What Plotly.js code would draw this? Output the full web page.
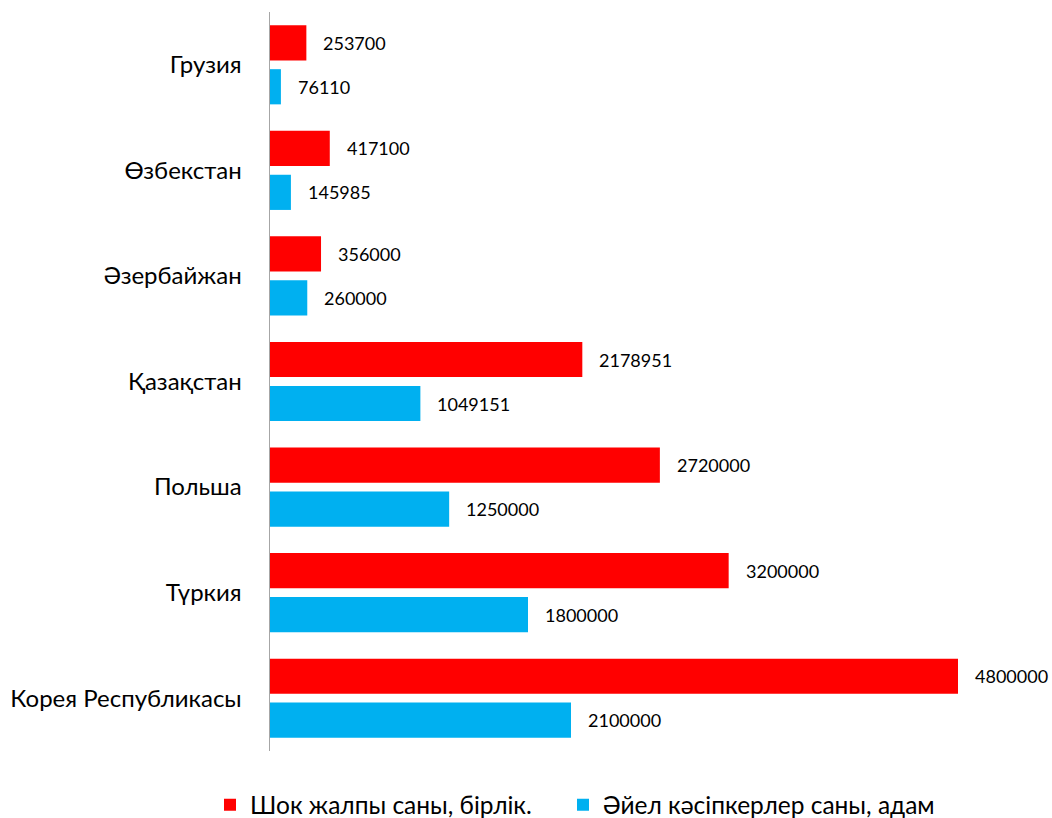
<!DOCTYPE html>
<html>
<head>
<meta charset="utf-8">
<script src="https://cdn.plot.ly/plotly-3.0.1.min.js"></script>
<style>html,body{margin:0;padding:0;background:#fff;}#chart{width:1052px;height:818px;}</style>
</head>
<body>
<div id="chart"></div>
<script>
const categories = ["Грузия", "Өзбекстан", "Әзербайжан", "Қазақстан", "Польша", "Түркия", "Корея Республикасы"];
const shokTotal = [253700, 417100, 356000, 2178951, 2720000, 3200000, 4800000];
const womenEntrepreneurs = [76110, 145985, 260000, 1049151, 1250000, 1800000, 2100000];
const seriesNames = ["Шок жалпы саны, бірлік.", "Әйел кәсіпкерлер саны, адам"];

const FONT = "Lato, 'Open Sans', sans-serif";

const traces = [
  {type: "bar", orientation: "h", name: seriesNames[0], y: categories, x: shokTotal,
   marker: {color: "#ff0000"}, hoverinfo: "x", legend: "legend"},
  {type: "bar", orientation: "h", name: seriesNames[1], y: categories, x: womenEntrepreneurs,
   marker: {color: "#00b0f0"}, hoverinfo: "x", legend: "legend2"}
];

const annotations = [];
categories.forEach((c, i) => {
  annotations.push({x: shokTotal[i], y: c, xref: "x", yref: "y", text: String(shokTotal[i]),
    showarrow: false, xanchor: "left", yanchor: "middle", xshift: 15, yshift: 22,
    font: {family: FONT, size: 18, color: "#000"}});
  annotations.push({x: womenEntrepreneurs[i], y: c, xref: "x", yref: "y", text: String(womenEntrepreneurs[i]),
    showarrow: false, xanchor: "left", yanchor: "middle", xshift: 15, yshift: -22,
    font: {family: FONT, size: 18, color: "#000"}});
});

const legendBase = {orientation: "h", xref: "container", yref: "container", xanchor: "left",
  y: 0.016, yanchor: "middle", itemwidth: 30, font: {family: FONT, size: 24.5, color: "#000"}};

const layout = {
  width: 1052, height: 818,
  margin: {l: 270, r: 52, t: 12, b: 67},
  paper_bgcolor: "#fff", plot_bgcolor: "#fff",
  font: {family: FONT, color: "#000"},
  barmode: "group",
  bargap: 0.167,
  bargroupgap: 0.2,
  showlegend: true,
  legend: Object.assign({}, legendBase, {x: 210 / 1052}),
  legend2: Object.assign({}, legendBase, {x: 563 / 1052}),
  xaxis: {range: [0, 4800000 * 730 / 688], showgrid: false, zeroline: false, showticklabels: false,
    ticks: "", showline: false, fixedrange: true},
  yaxis: {type: "category", autorange: "reversed", showgrid: false, zeroline: false,
    showline: true, linecolor: "#a6a6a6", linewidth: 1.5,
    ticks: "outside", ticklen: 22, tickcolor: "rgba(0,0,0,0)",
    tickfont: {family: FONT, size: 24, color: "#000"}},
  annotations: annotations
};

Plotly.newPlot("chart", traces, layout, {displayModeBar: false, staticPlot: true});
</script>
</body>
</html>
